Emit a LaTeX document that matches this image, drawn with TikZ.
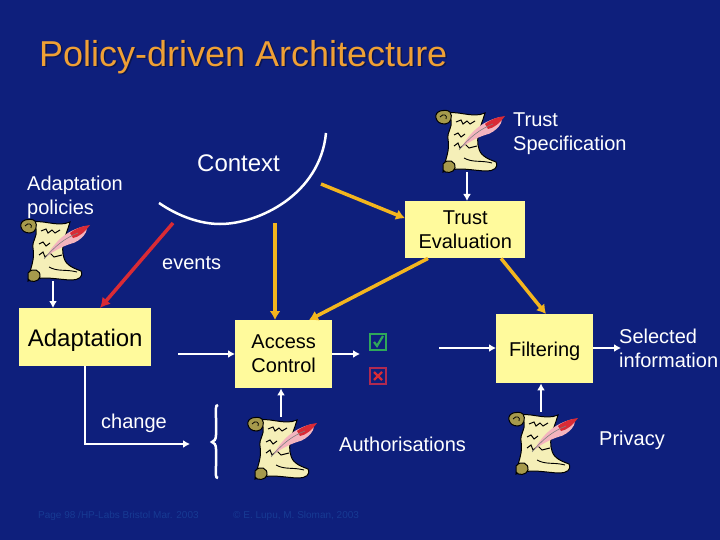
\documentclass[tikz,border=0pt]{standalone}
\usepackage{fontspec}
\setmainfont{Liberation Sans}
\usepackage{xcolor}
\usetikzlibrary{arrows.meta, positioning}
\definecolor{SlideBlue}{HTML}{0E1F7C}
\definecolor{FootBlue}{HTML}{173A93}
\definecolor{BoxYellow}{HTML}{FFFA9C}
\definecolor{FlowAmber}{HTML}{F3B51E}
\definecolor{EventRed}{HTML}{D92B35}
\definecolor{TitleOrange}{HTML}{EFA035}
\definecolor{TitleShade}{HTML}{0A1450}
\definecolor{PaperCream}{HTML}{F5EFB8}
\definecolor{CurlOlive}{HTML}{A69A4C}
\definecolor{QuillPink}{HTML}{F4B4BE}
\definecolor{AllowGreen}{HTML}{2FA85A}
\definecolor{DenyRed}{HTML}{B02A50}
\newcommand{\bodyfont}{\fontsize{20}{24}\selectfont}
\newcommand{\titlefont}{\fontsize{36}{40}\selectfont}
\newcommand{\footfont}{\fontsize{10}{12}\selectfont}

\tikzset{
    box/.style={rectangle, fill=BoxYellow, text=black, align=center, inner sep=0pt, font=\bodyfont},
    textlabel/.style={text=white, align=left, inner sep=0pt, font=\bodyfont},
    footlabel/.style={anchor=west, inner sep=0pt, text=FootBlue, font=\footfont},
    whiteline/.style={line width=2.5pt, color=white},
    whitearrow/.style={-{Latex[length=7pt, width=8pt]}, whiteline},
    amberarrow/.style={-{Latex[length=9pt, width=11pt]}, line width=3.5pt, color=FlowAmber},
    redarrow/.style={-{Latex[length=10pt, width=11pt]}, line width=3.5pt, color=EventRed},
    markbox/.style={line width=1.6pt, fill=SlideBlue, minimum size=16pt, inner sep=0pt},
    scrollspot/.style={minimum width=68pt, minimum height=62pt, inner sep=0pt},
    pics/scroll/.style={code={
        % paper, then ink and quill
        \draw[line width=1pt, fill=PaperCream] (-27,-27) .. controls (-14,-32) and (2,-22) .. (15,-28)
            .. controls (11,-14) and (5,-4) .. (9,8) .. controls (11,16) and (21,19) .. (26,21)
            .. controls (29,27) and (23,30) .. (17,30) .. controls (4,30) and (-12,25) .. (-27,31)
            .. controls (-24,15) and (-20,10) .. (-22,-2) .. controls (-23,-10) and (-17,-14) .. (-19,-21) -- cycle;
        \draw[line width=1pt, fill=CurlOlive] (-34,-23) .. controls (-36,-30) and (-25,-33) .. (-20,-29)
            .. controls (-17,-25) and (-19,-17) .. (-25,-17) .. controls (-30,-17) and (-33,-19) .. (-34,-23) -- cycle;
        \draw[line width=0.8pt] (-30,-24) .. controls (-27,-28) and (-22,-26) .. (-24,-22);
        \draw[line width=1pt, fill=CurlOlive] (-27,23) .. controls (-22,17) and (-14,20) .. (-15,27)
            .. controls (-16,32) and (-25,33) .. (-27,29) -- cycle;
        \draw[line width=1pt] (-14,-19) -- (-9,-21) -- (-7,-17) -- (-3,-20) -- (0,-17) -- (5,-20);
        \draw[line width=1pt] (-16,-6) -- (-12,-8) -- (-9,-4) -- (-5,-7);
        \draw[line width=1pt] (-16,5) -- (-12,2) -- (-10,7) -- (-5,3) -- (-1,7) -- (7,5);
        \draw[line width=0.9pt] (-6,17) .. controls (3,22) and (11,19) .. (22,22);
        \fill[QuillPink] (-9,7) .. controls (0,-8) and (10,-19) .. (30,-24) .. controls (36,-21) and (26,-8) .. (15,-6)
            .. controls (6,-3) and (-3,2) .. (-9,7) -- cycle;
        \fill[EventRed] (15,-17) .. controls (21,-22) and (28,-24) .. (35,-25) .. controls (30,-18) and (24,-13) .. (18,-12) -- cycle;
        \draw[line width=0.6pt, gray] (-11,9) .. controls (0,-4) and (10,-12) .. (23,-17);
    }},
}

\begin{document}
\begin{tikzpicture}[x=1pt, y=-1pt]

\useasboundingbox[fill=SlideBlue] (0,0) rectangle (720,540);

\node[anchor=base west, inner sep=0pt, text=TitleShade, font=\titlefont] (titleshade) at (40.5,68) {Policy-driven Architecture};
\node[anchor=base west, inner sep=0pt, text=TitleOrange, font=\titlefont] (title) at (39,66.5) {Policy-driven Architecture};

% boxes
\node[box, anchor=north west, minimum width=132pt, minimum height=58pt, text height=23pt, font=\fontsize{24}{28}\selectfont] (adapt) at (19,308) {Adaptation};
\node[box, anchor=north west, minimum width=97pt, minimum height=68pt] (access) at (235,320) {Access\\Control};
\node[box, anchor=north west, minimum width=120pt, minimum height=57pt] (eval) at (405,201) {Trust\\Evaluation};
\node[box, anchor=north west, minimum width=97pt, minimum height=69pt, text height=19pt] (filter) at (496,314) {Filtering};

% scrolls
\node[scrollspot] (policyscroll) at (55,250) {};
\node[scrollspot] (trustscroll) at (470,141) {};
\node[scrollspot] (authscroll) at (282,448) {};
\node[scrollspot] (privacyscroll) at (543,443) {};
\pic at (policyscroll) {scroll};
\pic at (trustscroll) {scroll};
\pic at (authscroll) {scroll};
\pic at (privacyscroll) {scroll};

% labels
\node[textlabel, anchor=north west] (policylabel) at (27,176) {Adaptation\\policies};
\node[textlabel, anchor=north west] (trustlabel) at (513,113) {Trust\\Specification};
\node[textlabel, anchor=west, font=\fontsize{24}{28}\selectfont] (context) at (197,163) {Context};
\node[textlabel, anchor=west] (events) at (162,263) {events};
\node[textlabel, anchor=west] (change) at (101,423) {change};
\node[textlabel, anchor=west] (auth) at (339,444) {Authorisations};
\node[textlabel, anchor=west] (privacy) at (599,440) {Privacy};
\node[textlabel, anchor=north west] (selected) at (619,329) {Selected\\information};
\node[footlabel] (pagefoot) at (38,516) {Page 98 /HP-Labs Bristol Mar. 2003};
\node[footlabel] (copyfoot) at (233,516) {© E. Lupu, M. Sloman, 2003};

% allow and deny marks
\node[markbox, draw=AllowGreen] (allow) at (378,342) {};
\node[markbox, draw=DenyRed] (deny) at (378,376) {};
\draw[line width=2.2pt, color=AllowGreen] ([shift={(-4,0)}]allow.center) -- ([shift={(-1,4)}]allow.center) -- ([shift={(5,-6)}]allow.center);
\draw[line width=2.4pt, color=EventRed] ([shift={(-4,-4)}]deny.center) -- ([shift={(4,4)}]deny.center);
\draw[line width=2.4pt, color=EventRed] ([shift={(4,-4)}]deny.center) -- ([shift={(-4,4)}]deny.center);

% context curve and free ends
\coordinate (arcleft) at (159,203);
\coordinate (arcbottom) at (220,224);
\coordinate (arcright) at (326,133);
\draw[whiteline] (arcleft) .. controls (178,216) and (200,224) .. (arcbottom) .. controls (258,224) and (320,195) .. (arcright);
\coordinate (redstart) at (173,223);
\coordinate (amberleft) at (275,223);
\coordinate (amberright) at (321,184);
\coordinate (accessin) at (178,354);
\coordinate (accessout) at (360,354);
\coordinate (filterin) at (439,348);
\coordinate (filterout) at (621,348);
\coordinate (changeend) at (190,444);

% connectors
\draw[redarrow] (redstart) -- ([xshift=81pt]adapt.north west);
\draw[amberarrow] (amberleft) -- (amberleft |- access.north);
\draw[amberarrow] (amberright) -- ([yshift=11.5pt]eval.west);
\draw[amberarrow] ([xshift=23pt]eval.south west) -- ([xshift=74pt]access.north west);
\draw[amberarrow] ([xshift=96pt]eval.south west) -- ([xshift=50pt]filter.north west);
\draw[whitearrow] ([xshift=-2pt]policyscroll.south) -- ([xshift=-2pt]policyscroll.south |- adapt.north);
\draw[whitearrow] ([xshift=-3pt]trustscroll.south) -- ([xshift=-3pt]trustscroll.south |- eval.north);
\draw[whitearrow] ([xshift=-1pt]authscroll.north) -- ([xshift=-1pt]authscroll.north |- access.south);
\draw[whitearrow] ([xshift=-2pt]privacyscroll.north) -- ([xshift=-2pt]privacyscroll.north |- filter.south);
\draw[whitearrow] (accessin) -- (accessin -| access.west);
\draw[whitearrow] (accessout -| access.east) -- (accessout);
\draw[whitearrow] (filterin) -- (filterin -| filter.west);
\draw[whitearrow] (filterout -| filter.east) -- (filterout);
\draw[whitearrow] (adapt.south) |- (changeend);

% brace
\coordinate (bracetop) at (218,405);
\coordinate (bracebottom) at (218,478);
\draw[whiteline] (bracetop) .. controls (215,405) and (216,410) .. (216,418) -- (216,435) .. controls (216,440) and (214,441) .. (212,442) .. controls (214,443) and (216,444) .. (216,449) -- (216,466) .. controls (216,474) and (215,478) .. (bracebottom);

\end{tikzpicture}
\end{document}
